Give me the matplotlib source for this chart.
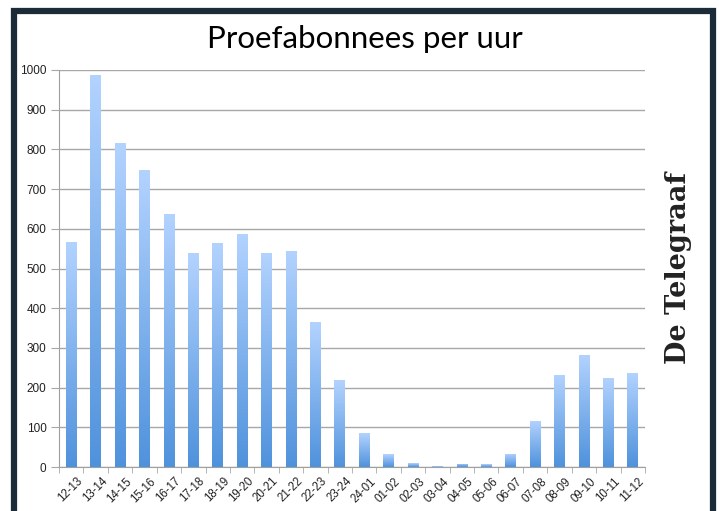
import numpy as np
import matplotlib
matplotlib.use("Agg")
import matplotlib.pyplot as plt
from matplotlib.colors import LinearSegmentedColormap
from matplotlib.patches import Rectangle

hours = ["12-13", "13-14", "14-15", "15-16", "16-17", "17-18", "18-19", "19-20",
         "20-21", "21-22", "22-23", "23-24", "24-01", "01-02", "02-03", "03-04",
         "04-05", "05-06", "06-07", "07-08", "08-09", "09-10", "10-11", "11-12"]
subscribers = [568, 988, 815, 748, 637, 538, 563, 588, 540, 545, 365, 218,
               85, 32, 10, 2, 8, 7, 33, 116, 232, 283, 225, 237]
yticks = [0, 100, 200, 300, 400, 500, 600, 700, 800, 900, 1000]

fig = plt.figure(figsize=(7.19, 5.11), dpi=100)
fig.patch.set_facecolor("white")

# dark frame around the slide
frame = Rectangle((13.5 / 719, -0.1), (712.5 - 13.5) / 719, 1.1 - 11 / 511,
                  transform=fig.transFigure, fill=False, lw=4.5,
                  edgecolor="#1c2b38", zorder=0)
fig.patches.append(frame)

ax = fig.add_axes([59 / 719, 44 / 511, 586 / 719, 397 / 511])
x = np.arange(len(hours))
bars = ax.bar(x, subscribers, width=0.44, color="none", zorder=3)

# per-bar vertical gradient, light at the top
grad = LinearSegmentedColormap.from_list("bar", ["#4f92dc", "#b3d3ff"])
g = np.linspace(0, 1, 256).reshape(-1, 1)
for b in bars:
    x0, w, h = b.get_x(), b.get_width(), b.get_height()
    im = ax.imshow(g, cmap=grad, origin="lower", aspect="auto",
                   extent=[x0, x0 + w, 0, h], zorder=3)
    im.set_clip_path(b)

ax.set_xlim(-0.5, len(hours) - 0.5)
ax.set_ylim(0, 1000)
ax.set_yticks(yticks)
ax.set_yticklabels([str(v) for v in yticks], fontsize=8.5, family="Liberation Sans",
                   color="#222222")
ax.yaxis.grid(True, color="#a8a8a8", lw=1.0, zorder=0)
ax.tick_params(axis="y", length=6, color="#a8a8a8", pad=3)

ax.set_xticks(x)
ax.set_xticklabels(hours, rotation=45, ha="right", va="top", rotation_mode="anchor",
                   fontsize=8.3, family="Liberation Sans", color="#222222")
ax.set_xticks(np.arange(len(hours) + 1) - 0.5, minor=True)
ax.tick_params(axis="x", which="major", length=0, pad=6)
ax.tick_params(axis="x", which="minor", length=4, color="#a8a8a8")
shift = matplotlib.transforms.ScaledTranslation(4 / 72, 0, fig.dpi_scale_trans)
for lab in ax.get_xticklabels():
    lab.set_transform(lab.get_transform() + shift)

for s in ["top", "right"]:
    ax.spines[s].set_visible(False)
for s in ["left", "bottom"]:
    ax.spines[s].set_color("#a0a0a0")

fig.text(365 / 719, 1 - 39 / 511, "Proefabonnees per uur", ha="center", va="center",
         fontsize=22.5, family="Lato")
fig.text(678 / 719, 1 - 268 / 511, "De Telegraaf", rotation=90, ha="center",
         va="center", fontsize=19.5, family="DejaVu Serif", fontweight="bold",
         color="#222222")

fig.savefig("out.png", dpi=100, facecolor="white")
